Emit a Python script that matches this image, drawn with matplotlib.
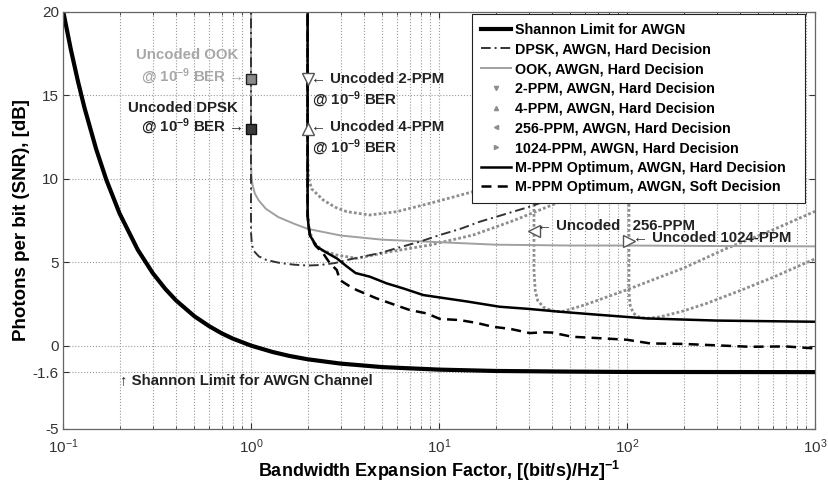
import matplotlib
matplotlib.use("Agg")
import matplotlib.pyplot as plt
from matplotlib.lines import Line2D

plt.rcParams['font.family'] = ['Liberation Sans', 'DejaVu Sans']
plt.rcParams['mathtext.fontset'] = 'custom'
plt.rcParams['mathtext.rm'] = 'Liberation Sans'
plt.rcParams['mathtext.bf'] = 'Liberation Sans:bold'
plt.rcParams['mathtext.it'] = 'Liberation Sans:italic'

# Shannon limit for the AWGN channel
shannon_w = [0.1, 0.11, 0.12, 0.13, 0.15, 0.17, 0.2, 0.25, 0.3, 0.35, 0.4, 0.5, 0.6, 0.7,
             0.8, 1.0, 1.3, 1.6, 2.0, 3.0, 5.0, 10, 20, 50, 100, 1000]
shannon_db = [20.1, 17.77, 15.86, 14.27, 11.79, 9.94, 7.92, 5.74, 4.35, 3.40, 2.70, 1.76, 1.16, 0.73,
              0.42, 0.0, -0.38, -0.62, -0.82, -1.08, -1.29, -1.44, -1.52, -1.56, -1.58, -1.59]

# DPSK, hard decision
dpsk_w = [1.0, 1.0, 1.01, 1.03, 1.1, 1.21, 1.43, 1.7, 2.0, 2.33, 2.8, 3.23, 4.0, 4.86, 6.0, 7.9,
          10.1, 13, 16.5, 22, 30.4, 40, 60]
dpsk_db = [21, 6.8, 6.1, 5.7, 5.35, 5.13, 4.95, 4.85, 4.8, 4.83, 4.95, 5.13, 5.35, 5.55, 5.85, 6.23,
           6.63, 7.0, 7.43, 7.85, 8.33, 8.8, 9.5]

# OOK, hard decision
ook_w = [1.0, 1.0, 1.005, 1.02, 1.05, 1.1, 1.2, 1.4, 1.7, 2.0, 3.0, 5.0, 10, 20, 50, 100, 300, 1000]
ook_db = [21, 11.0, 10.2, 9.6, 9.1, 8.7, 8.2, 7.7, 7.3, 7.0, 6.6, 6.35, 6.2, 6.05, 6.0, 6.0, 5.97, 5.95]

# M-ary PPM, hard decision
ppm2_w = [2.0, 2.0, 2.02, 2.1, 2.42, 2.8, 3.23, 4.29, 5.96, 8.94, 15.2, 25, 40, 70]
ppm2_db = [21, 11.5, 10.1, 9.4, 8.73, 8.3, 8.03, 7.83, 8.03, 8.53, 9.23, 10.0, 10.9, 12.0]

ppm4_w = [2.0, 2.0, 2.03, 2.15, 2.4, 2.86, 3.65, 5.5, 8.94, 15.2, 25, 42, 70]
ppm4_db = [21, 8.0, 7.0, 6.2, 5.7, 5.43, 5.23, 5.63, 6.03, 6.63, 7.5, 8.53, 9.5]

ppm256_w = [32, 32, 32.5, 33.5, 36, 40, 45, 60, 100, 200, 339, 600, 1000]
ppm256_db = [21, 4.5, 3.3, 2.7, 2.3, 2.08, 2.03, 2.45, 3.35, 4.65, 5.83, 6.95, 8.05]

ppm1024_w = [102.4, 102.4, 104, 108, 115, 127, 150, 200, 265, 400, 600, 1000]
ppm1024_db = [21, 3.2, 2.4, 1.95, 1.72, 1.63, 1.72, 2.08, 2.53, 3.3, 4.1, 5.2]

# Optimum M-PPM
hard_w = [2.0, 2.0, 2.03, 2.06, 2.24, 2.5, 2.86, 3.23, 3.6, 4.29, 5.27, 6.45, 8.25, 10.9, 14, 21,
          30, 44, 70, 127, 300, 1000]
hard_db = [21, 7.8, 7.0, 6.6, 5.93, 5.6, 5.23, 4.75, 4.35, 4.13, 3.73, 3.43, 3.03, 2.83, 2.65, 2.33,
           2.2, 2.03, 1.85, 1.63, 1.5, 1.43]

soft_w = [2.0, 2.0, 2.06, 2.2, 2.42, 2.63, 2.86, 2.97, 3.3, 3.65, 4.66, 5.8, 7.0, 8.6, 10.1, 12.9,
          16, 19.3, 24, 30.4, 36, 40, 51, 70, 100, 133, 200, 450, 700, 1000]
soft_db = [21, 7.8, 6.6, 6.0, 5.53, 4.93, 4.53, 3.93, 3.6, 3.33, 2.83, 2.45, 2.13, 1.93, 1.6, 1.53,
           1.35, 1.13, 1.0, 0.75, 0.8, 0.78, 0.53, 0.45, 0.35, 0.13, 0.1, -0.07, -0.05, -0.17]

# Uncoded operating points at 1e-9 BER
uncoded_ook = (1.0, 16.0)
uncoded_dpsk = (1.0, 13.0)
uncoded_2ppm = (2.0, 16.0)
uncoded_4ppm = (2.0, 13.0)
uncoded_256ppm = (32.0, 6.9)
uncoded_1024ppm = (102.4, 6.3)

y_ticks = [-5, -1.6, 0, 5, 10, 15, 20]
y_tick_labels = ['-5', '-1.6', '0', '5', '10', '15', '20']

legend_labels = ['Shannon Limit for AWGN', 'DPSK, AWGN, Hard Decision', 'OOK, AWGN, Hard Decision',
                 '2-PPM, AWGN, Hard Decision', '4-PPM, AWGN, Hard Decision',
                 '256-PPM, AWGN, Hard Decision', '1024-PPM, AWGN, Hard Decision',
                 'M-PPM Optimum, AWGN, Hard Decision', 'M-PPM Optimum, AWGN, Soft Decision']

fig = plt.figure(figsize=(8.29, 4.88), dpi=100)
ax = fig.add_axes([63 / 829, 1 - 429 / 488, 752 / 829, 417 / 488])
ax.set_xscale('log')
ax.set_xlim(0.1, 1000)
ax.set_ylim(-5, 20)

grid_kw = dict(color='#9a9a9a', linestyle=':', linewidth=0.8)
ax.grid(True, which='both', axis='x', **grid_kw)
ax.grid(True, which='major', axis='y', **grid_kw)
ax.set_axisbelow(True)

ppm_color = '#8e8e8e'
ppm_ls = (0, (1.0, 0.8))

ax.plot(ppm2_w, ppm2_db, color=ppm_color, lw=2.0, ls=ppm_ls)
ax.plot(ppm4_w, ppm4_db, color=ppm_color, lw=2.0, ls=ppm_ls)
ax.plot(ppm256_w, ppm256_db, color=ppm_color, lw=2.0, ls=ppm_ls)
ax.plot(ppm1024_w, ppm1024_db, color=ppm_color, lw=2.0, ls=ppm_ls)
ax.plot(ook_w, ook_db, color='#a0a0a0', lw=1.4)
ax.plot(dpsk_w, dpsk_db, color='#333333', lw=1.4, ls=(0, (5, 2, 1, 2)))
ax.plot(soft_w, soft_db, color='black', lw=1.8, ls=(0, (4, 2.5)))
ax.plot(hard_w, hard_db, color='black', lw=1.8)
ax.plot(shannon_w, shannon_db, color='black', lw=3.0, solid_capstyle='butt')

# uncoded markers
ax.plot(*uncoded_ook, marker='s', ms=7, mfc='#8a8a8a', mec='#222222', mew=1.0, ls='none')
ax.plot(*uncoded_dpsk, marker='s', ms=7, mfc='#3a3a3a', mec='#111111', mew=1.0, ls='none')
ax.plot(*uncoded_2ppm, marker='v', ms=9, mfc='white', mec='#555555', mew=1.0, ls='none')
ax.plot(*uncoded_4ppm, marker='^', ms=9, mfc='white', mec='#555555', mew=1.0, ls='none')
ax.plot(*uncoded_256ppm, marker='<', ms=9, mfc='white', mec='#555555', mew=1.0, ls='none')
ax.plot(*uncoded_1024ppm, marker='>', ms=9, mfc='white', mec='#555555', mew=1.0, ls='none')

txt = dict(fontsize=10.8, fontweight='bold')
ber = r'@ 10$^{\mathbf{-9}}$ BER'
ax.text(0.853, 17.4, 'Uncoded OOK', ha='right', va='center', color='#a8a8a8', **txt)
ax.text(0.906, 16.1, ber + ' \u2192', ha='right', va='center', color='#a8a8a8', **txt)
ax.text(0.853, 14.25, 'Uncoded DPSK', ha='right', va='center', color='#222222', **txt)
ax.text(0.906, 13.1, ber + ' \u2192', ha='right', va='center', color='#222222', **txt)
ax.text(2.085, 15.98, '\u2190 Uncoded 2-PPM', ha='left', va='center', color='#222222', **txt)
ax.text(2.1, 14.7, ber, ha='left', va='center', color='#222222', **txt)
ax.text(2.085, 13.1, '\u2190 Uncoded 4-PPM', ha='left', va='center', color='#222222', **txt)
ax.text(2.1, 11.85, ber, ha='left', va='center', color='#222222', **txt)
ax.text(33.2, 7.2, '\u2190 Uncoded   256-PPM', ha='left', va='center', color='#222222', **txt)
ax.text(107.5, 6.45, '\u2190 Uncoded 1024-PPM', ha='left', va='center', color='#222222', **txt)
ax.text(0.201, -2.06, '\u2191 Shannon Limit for AWGN Channel', ha='left', va='center',
        color='#222222', **txt)

ax.set_yticks(y_ticks)
ax.set_yticklabels(y_tick_labels)
ax.tick_params(axis='both', which='both', direction='in', top=True, right=True,
               labelsize=11, colors='#333333')
ax.tick_params(axis='y', pad=3)
ax.tick_params(axis='x', pad=6)
ax.tick_params(which='major', length=4)
ax.tick_params(which='minor', length=2.5)
for s in ax.spines.values():
    s.set_color('#666666')
    s.set_linewidth(0.9)

ax.set_xlabel(r'Bandwidth Expansion Factor, [(bit/s)/Hz]$^{\mathbf{-1}}$', fontsize=13,
              fontweight='bold', labelpad=2)
ax.set_ylabel('Photons per bit (SNR), [dB]', fontsize=13.5, fontweight='bold', labelpad=2)

handles = [
    Line2D([], [], color='black', lw=3.0),
    Line2D([], [], color='#333333', lw=1.4, ls=(0, (5, 2, 1, 2))),
    Line2D([], [], color='#a0a0a0', lw=1.4),
    Line2D([], [], color=ppm_color, marker='v', ms=3, ls='none'),
    Line2D([], [], color=ppm_color, marker='^', ms=3, ls='none'),
    Line2D([], [], color=ppm_color, marker='<', ms=3, ls='none'),
    Line2D([], [], color=ppm_color, marker='>', ms=3, ls='none'),
    Line2D([], [], color='black', lw=1.8),
    Line2D([], [], color='black', lw=1.8, ls=(0, (4, 2.5))),
]
leg = ax.legend(handles, legend_labels, loc='upper left', mode='expand',
                bbox_to_anchor=(0.544, 0.542, 0.443, 0.453), borderaxespad=0,
                prop={'weight': 'bold', 'size': 10.3}, handlelength=2.1,
                handletextpad=0.3, labelspacing=0.4, borderpad=0.6, fancybox=False,
                framealpha=1, edgecolor='#222222')
leg.get_frame().set_linewidth(0.8)

fig.savefig('out.png', dpi=100)
